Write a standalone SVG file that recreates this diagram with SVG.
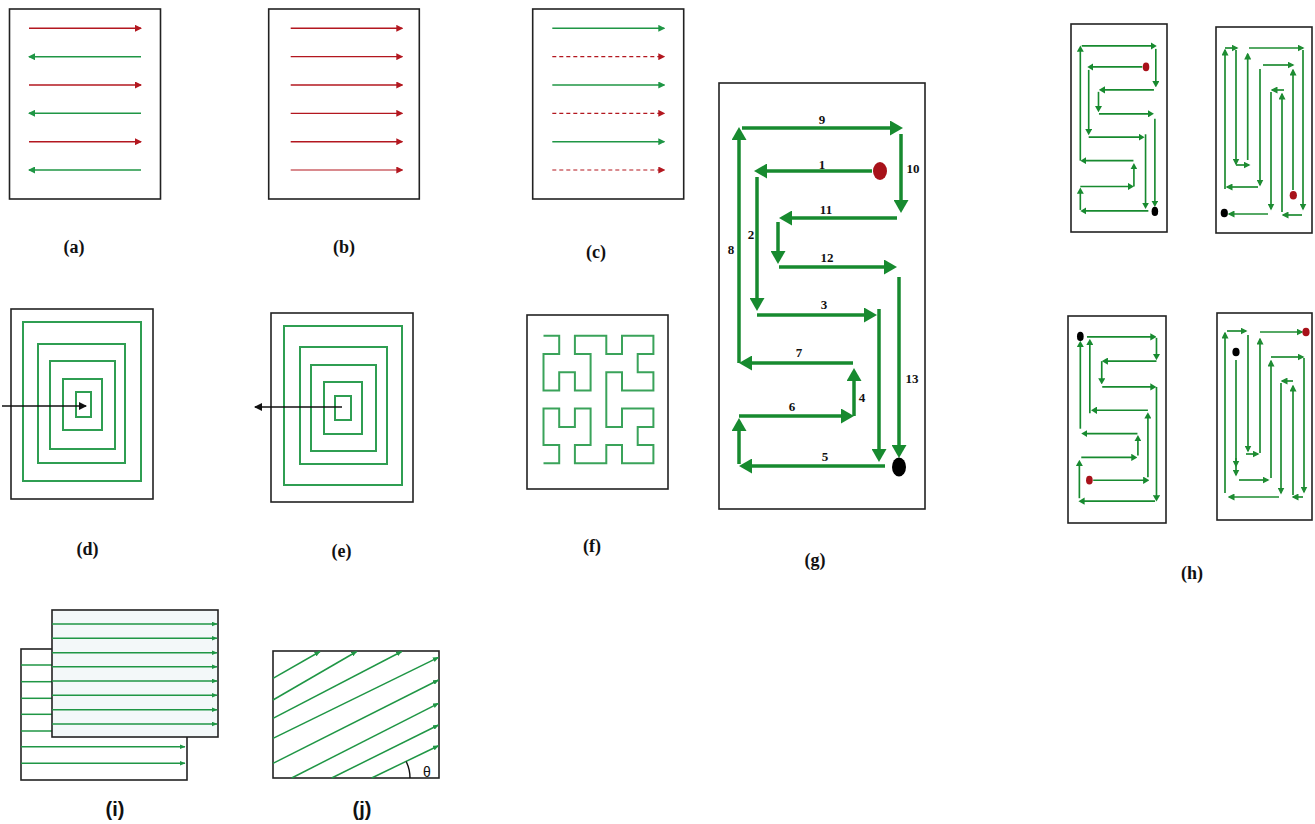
<svg xmlns="http://www.w3.org/2000/svg" xmlns:xlink="http://www.w3.org/1999/xlink" width="1315" height="824" viewBox="0 0 1315 824">
<style>
.box{fill:#fff;stroke:#222;stroke-width:1.6}
.red{fill:none;stroke:#b3171f;stroke-width:1.6}
.grn{fill:none;stroke:#1f9645;stroke-width:1.5}
.sq{fill:none;stroke:#2f9e52;stroke-width:2}
.gp{fill:none;stroke:#178a2f;stroke-width:3.5}
.hp{fill:none;stroke:#1e8c32;stroke-width:1.7}
.lbl{font-family:'Liberation Serif','Times New Roman',serif;font-weight:bold;font-size:18px;text-anchor:middle;fill:#111}
.num{font-family:'Liberation Serif','Times New Roman',serif;font-weight:bold;font-size:13px;text-anchor:middle;fill:#111}
.slbl{font-family:'Liberation Sans',Arial,sans-serif;font-weight:bold;font-size:20px;text-anchor:middle;fill:#111}
</style>
<defs>
<marker id="mr" markerWidth="7" markerHeight="7" refX="6" refY="3.5" orient="auto" markerUnits="userSpaceOnUse"><path d="M0,0 L7,3.5 L0,7 Z" fill="#b3171f"/></marker>
<marker id="mg" markerWidth="7" markerHeight="7" refX="6" refY="3.5" orient="auto" markerUnits="userSpaceOnUse"><path d="M0,0 L7,3.5 L0,7 Z" fill="#1f9645"/></marker>
<marker id="mk" markerWidth="8" markerHeight="8" refX="7" refY="4" orient="auto" markerUnits="userSpaceOnUse"><path d="M0,0 L8,4 L0,8 Z" fill="#111"/></marker>
<marker id="mG" markerWidth="13" markerHeight="15" refX="5" refY="7.5" orient="auto" markerUnits="userSpaceOnUse"><path d="M0,0 L13,7.5 L0,15 Z" fill="#178a2f"/></marker>
<marker id="mh" markerWidth="7" markerHeight="7" refX="5.5" refY="3.5" orient="auto" markerUnits="userSpaceOnUse"><path d="M0,0 L7,3.5 L0,7 Z" fill="#1e8c32"/></marker>
<marker id="mt" markerWidth="6" markerHeight="5" refX="5.5" refY="2.5" orient="auto" markerUnits="userSpaceOnUse"><path d="M0,0 L6,2.5 L0,5 Z" fill="#1f9645"/></marker>
<g id="gpath">
<g class="gp" marker-end="url(#mG)">
<path d="M742,128 H895"/>
<path d="M739,363 V135"/>
<path d="M872,171 H762"/>
<path d="M901,134 V205"/>
<path d="M757,177 V303"/>
<path d="M897,218 H787"/>
<path d="M778,222 V256"/>
<path d="M779,267 H889"/>
<path d="M899,277 V450"/>
<path d="M757,315 H869"/>
<path d="M879,309 V454"/>
<path d="M885,466 H747"/>
<path d="M739,464 V426"/>
<path d="M739,416 H846"/>
<path d="M854,416 V376"/>
<path d="M853,363 H747"/>
</g>
<ellipse cx="880" cy="171" rx="7" ry="9" fill="#a8121a"/>
<ellipse cx="899" cy="467" rx="7" ry="9.5" fill="#000"/>
</g>
</defs>

<g id="panel-a">
<rect class="box" x="9.5" y="9" width="151" height="190"/>
<path class="red" d="M29,28.3 H141" marker-end="url(#mr)"/>
<path class="grn" d="M141,56.7 H29" marker-end="url(#mg)"/>
<path class="red" d="M29,85 H141" marker-end="url(#mr)"/>
<path class="grn" d="M141,113.3 H29" marker-end="url(#mg)"/>
<path class="red" d="M29,141.7 H141" marker-end="url(#mr)"/>
<path class="grn" d="M141,170 H29" marker-end="url(#mg)"/>
<text class="lbl" x="74" y="253">(a)</text>
</g>

<g id="panel-b">
<rect class="box" x="268.7" y="9" width="150.6" height="190"/>
<path class="red" d="M290.7,28.3 H402.3" marker-end="url(#mr)"/>
<path class="red" style="stroke-width:1.2" d="M290.7,56.7 H402.3" marker-end="url(#mr)"/>
<path class="red" d="M290.7,85 H402.3" marker-end="url(#mr)"/>
<path class="red" style="stroke-width:1.2" d="M290.7,113.3 H402.3" marker-end="url(#mr)"/>
<path class="red" d="M290.7,141.7 H402.3" marker-end="url(#mr)"/>
<path class="red" style="stroke-width:1.2" d="M290.7,170 H402.3" marker-end="url(#mr)"/>
<text class="lbl" x="344" y="253">(b)</text>
</g>

<g id="panel-c">
<rect class="box" x="532.7" y="9" width="151" height="190"/>
<path class="grn" d="M552.3,28.3 H664.3" marker-end="url(#mg)"/>
<path class="red" style="stroke-width:1.2;stroke-dasharray:4 3" d="M552.3,56.7 H664.3" marker-end="url(#mr)"/>
<path class="grn" d="M552.3,85 H664.3" marker-end="url(#mg)"/>
<path class="red" style="stroke-width:1.2;stroke-dasharray:4 3" d="M552.3,113.3 H664.3" marker-end="url(#mr)"/>
<path class="grn" d="M552.3,141.7 H664.3" marker-end="url(#mg)"/>
<path class="red" style="stroke-width:1.2;stroke-dasharray:4 3" d="M552.3,170 H664.3" marker-end="url(#mr)"/>
<text class="lbl" x="596" y="258">(c)</text>
</g>

<g id="panel-d">
<rect class="box" x="11" y="309" width="142" height="190"/>
<rect class="sq" x="23" y="322" width="118" height="159"/>
<rect class="sq" x="38" y="344" width="87" height="119"/>
<rect class="sq" x="50" y="361" width="65" height="88"/>
<rect class="sq" x="63" y="379" width="39" height="51"/>
<rect class="sq" x="76" y="392" width="15" height="25"/>
<path d="M2,406 H86" stroke="#111" stroke-width="1.6" marker-end="url(#mk)"/>
<text class="lbl" x="87.5" y="555">(d)</text>
</g>

<g id="panel-e">
<rect class="box" x="271" y="313" width="142" height="189"/>
<rect class="sq" x="284" y="326" width="118" height="159"/>
<rect class="sq" x="300" y="347" width="87" height="117"/>
<rect class="sq" x="311" y="365" width="65" height="86"/>
<rect class="sq" x="324" y="382" width="38" height="52"/>
<rect class="sq" x="335" y="396" width="16" height="24"/>
<path d="M342,407 H255" stroke="#111" stroke-width="1.6" marker-end="url(#mk)"/>
<text class="lbl" x="341.5" y="557">(e)</text>
</g>

<g id="panel-f">
<rect class="box" x="527" y="315" width="141" height="174"/>
<polyline class="sq" style="stroke:#3aa35a" points="543.5,335.7 559.2,335.7 559.2,353.9 543.5,353.9 543.5,390.4 559.2,390.4 559.2,372.2 574.9,372.2 574.9,390.4 590.6,390.4 590.6,353.9 574.9,353.9 574.9,335.7 606.3,335.7 606.3,353.9 622,353.9 622,335.7 653.4,335.7 653.4,353.9 637.7,353.9 637.7,372.2 653.4,372.2 653.4,390.4 622,390.4 622,372.2 606.3,372.2 606.3,426.9 622,426.9 622,408.6 653.4,408.6 653.4,426.9 637.7,426.9 637.7,445.1 653.4,445.1 653.4,463.3 622,463.3 622,445.1 606.3,445.1 606.3,463.3 574.9,463.3 574.9,445.1 590.6,445.1 590.6,408.6 574.9,408.6 574.9,426.9 559.2,426.9 559.2,408.6 543.5,408.6 543.5,445.1 559.2,445.1 559.2,463.3 543.5,463.3"/>
<text class="lbl" x="592" y="552">(f)</text>
</g>

<g id="panel-g">
<rect class="box" x="719" y="83" width="206" height="426"/>
<use xlink:href="#gpath" href="#gpath"/>
<text class="num" x="822" y="124">9</text>
<text class="num" x="822" y="169">1</text>
<text class="num" x="913" y="173">10</text>
<text class="num" x="826" y="214">11</text>
<text class="num" x="827" y="262">12</text>
<text class="num" x="751" y="239">2</text>
<text class="num" x="731" y="254">8</text>
<text class="num" x="824" y="309">3</text>
<text class="num" x="912" y="383">13</text>
<text class="num" x="799" y="357">7</text>
<text class="num" x="862" y="402">4</text>
<text class="num" x="792" y="411">6</text>
<text class="num" x="825" y="461">5</text>
<text class="lbl" x="815" y="566">(g)</text>
</g>

<g id="panel-h">
<g id="h-top-left">
<rect class="box" x="1071" y="24" width="96" height="208"/>
<use xlink:href="#gpath" href="#gpath" transform="translate(1071,24) scale(0.466,0.488) translate(-719,-83)"/>
</g>
<g id="h-bottom-left">
<rect class="box" x="1068" y="316" width="98" height="207"/>
<use xlink:href="#gpath" href="#gpath" transform="translate(1166,523) scale(-0.476,-0.486) translate(-719,-83)"/>
</g>
<g id="h-top-right">
<rect class="box" x="1216" y="27" width="96" height="206"/>
<g class="hp" marker-end="url(#mh)">
<path d="M1225,189 V50"/>
<path d="M1225,48 H1237"/>
<path d="M1236,50 V164"/>
<path d="M1236,165 H1249"/>
<path d="M1247.7,160 V54"/>
<path d="M1249,48 H1303"/>
<path d="M1303,50 V209"/>
<path d="M1302,215 H1283"/>
<path d="M1282,212 V94"/>
<path d="M1284,90 H1272"/>
<path d="M1271,92 V209"/>
<path d="M1268,214 H1229"/>
<path d="M1293,190 V70"/>
<path d="M1263,65 H1293"/>
<path d="M1260,69 V185"/>
<path d="M1258,187 H1227"/>
</g>
<ellipse cx="1224.3" cy="213" rx="3.6" ry="4.3" fill="#000"/>
<ellipse cx="1293.3" cy="195.3" rx="3.6" ry="4.3" fill="#a8121a"/>
</g>
<g id="h-bottom-right">
<rect class="box" x="1217" y="313" width="95" height="207"/>
<g class="hp" marker-end="url(#mh)">
<path d="M1225,493 V333"/>
<path d="M1227,331 H1246"/>
<path d="M1248,335 V451"/>
<path d="M1246,454 H1258"/>
<path d="M1260,453 V339"/>
<path d="M1260,332 H1302"/>
<path d="M1236,360 V475"/>
<path d="M1236,458 V466"/>
<path d="M1239,480 H1268"/>
<path d="M1271,478 V361"/>
<path d="M1271,357 H1303"/>
<path d="M1304,358 V492"/>
<path d="M1303,497 H1293"/>
<path d="M1293,495 V386"/>
<path d="M1293,381 H1282"/>
<path d="M1281,383 V493"/>
<path d="M1279,497 H1229"/>
</g>
<ellipse cx="1306" cy="332" rx="3.6" ry="4.3" fill="#a8121a"/>
<ellipse cx="1236" cy="352" rx="3.6" ry="4.3" fill="#000"/>
</g>
<text class="lbl" x="1192" y="579">(h)</text>
</g>

<g id="panel-i">
<rect class="box" x="21" y="649" width="166" height="131"/>
<g class="grn">
<path d="M21,665 H52"/>
<path d="M21,681.7 H52"/>
<path d="M21,698.3 H52"/>
<path d="M21,714.3 H52"/>
<path d="M21,731 H52"/>
<path d="M21,746.7 H185" marker-end="url(#mt)"/>
<path d="M21,763.3 H185" marker-end="url(#mt)"/>
</g>
<rect class="box" style="fill:#f3f8f9" x="52" y="610" width="166" height="127"/>
<g class="grn" marker-end="url(#mt)">
<path d="M52,624 H217"/>
<path d="M52,638.3 H217"/>
<path d="M52,652.7 H217"/>
<path d="M52,666.7 H217"/>
<path d="M52,681 H217"/>
<path d="M52,695.3 H217"/>
<path d="M52,709.7 H217"/>
<path d="M52,724 H217"/>
</g>
<text class="slbl" x="115" y="816">(i)</text>
</g>

<g id="panel-j">
<rect class="box" x="273" y="651" width="166" height="127"/>
<g class="grn" marker-end="url(#mt)">
<path d="M273,678.3 L320,651.5"/>
<path d="M273,700 L356.7,651.5"/>
<path d="M273,718.3 L401.7,651.5"/>
<path d="M273,738.3 L438.5,657.3"/>
<path d="M273,763.3 L438.5,680"/>
<path d="M291.7,778 L438.5,703.3"/>
<path d="M331.7,778 L438.5,725"/>
<path d="M371.7,778 L438.5,745.7"/>
</g>
<path d="M410,778 A38,38 0 0 0 406.2,761.5" fill="none" stroke="#111" stroke-width="1.4"/>
<text x="427" y="777" style="font-family:'Liberation Sans',Arial,sans-serif;font-size:14px;text-anchor:middle;fill:#111">θ</text>
<text class="slbl" x="362" y="816">(j)</text>
</g>
</svg>
